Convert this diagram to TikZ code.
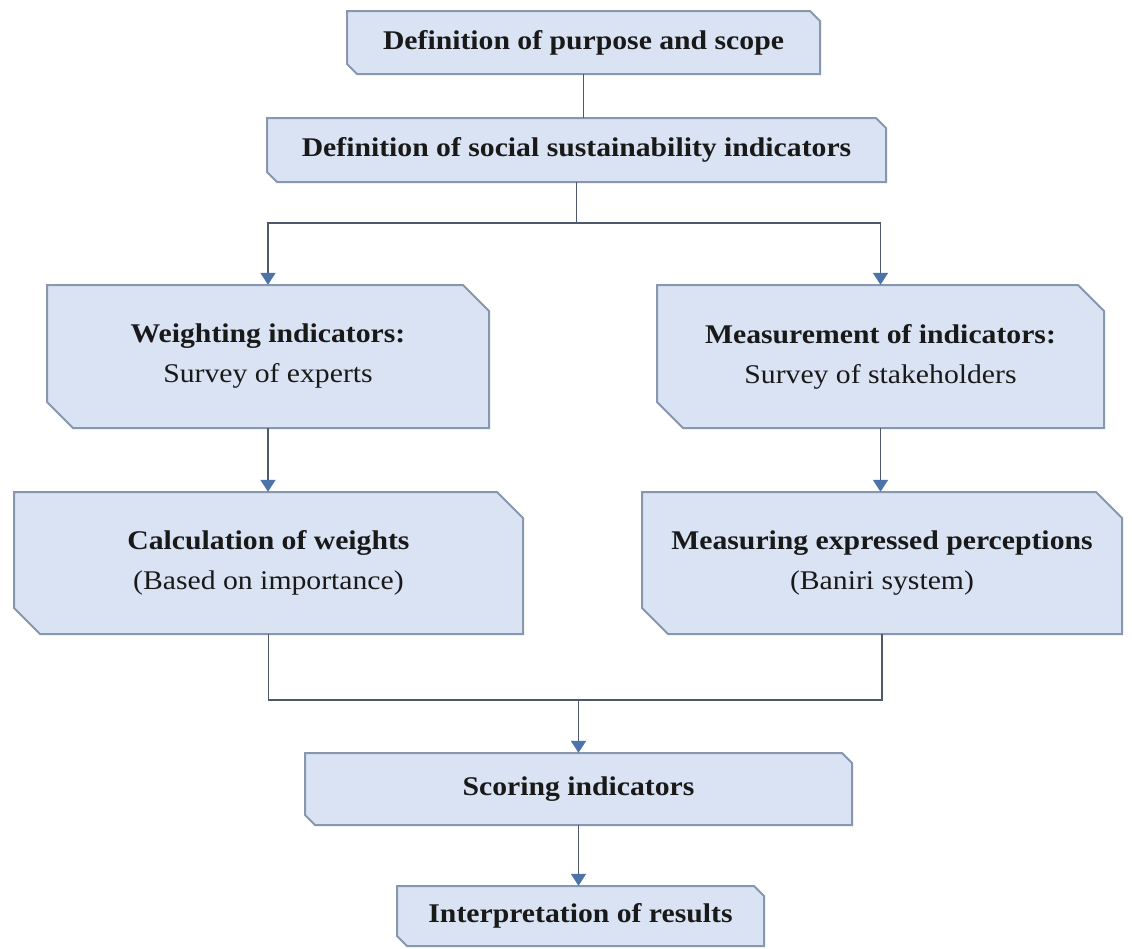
\documentclass[tikz,border=0pt]{standalone}
\usepackage{fontspec}
\setmainfont{Liberation Serif}[FakeStretch=1.1]
\usetikzlibrary{fit,arrows.meta,calc}
\definecolor{boxfill}{HTML}{DAE3F3}
\definecolor{boxedge}{HTML}{8797AE}
\definecolor{linecol}{HTML}{4E5A6A}
\definecolor{arrowcol}{HTML}{4C74A8}
\tikzset{
  snipshape/.style={fill=boxfill, draw=boxedge, line width=2pt, line join=miter},
  holder/.style={inner sep=0pt, draw=none},
  boxtext/.style={align=center, font=\fontsize{27}{40}\selectfont, text=black!90},
  conn/.style={draw=linecol, line width=1.6pt},
  arr/.style={conn, -{Triangle[width=15pt,length=12pt,color=arrowcol]}},
}
\newcommand\snipnode[7]{% name x1 y1 x2 y2 cut text
  \path[snipshape] (#2,#3) -- ({#4-#6},#3) -- (#4,{#3+#6}) -- (#4,#5) -- ({#2+#6},#5) -- (#2,{#5-#6}) -- cycle;
  \node[holder, fit={(#2,#3) (#4,#5)}] (#1) {};
  \node[boxtext] at (#1.center) {#7};
}
\begin{document}
\begin{tikzpicture}[x=1pt,y=-1pt]
\fill[white] (0,0) rectangle (1132,948);
\useasboundingbox (0,0) rectangle (1132,948);

\snipnode{b1}{347}{11}{820}{74}{10}{\textbf{Definition of purpose and scope}}
\snipnode{b2}{267}{118}{886}{182}{10}{\textbf{Definition of social sustainability indicators}}
\snipnode{b3}{47}{285}{489}{428}{26}{\textbf{Weighting indicators:}\\Survey of experts}
\snipnode{b4}{657}{285}{1104}{428}{26}{\textbf{Measurement of indicators:}\\Survey of stakeholders}
\snipnode{b5}{14}{492}{523}{634}{26}{\textbf{Calculation of weights}\\(Based on importance)}
\snipnode{b6}{642}{492}{1122}{634}{26}{\textbf{Measuring expressed perceptions}\\(Baniri system)}
\snipnode{b7}{305}{753}{852}{825}{10}{\textbf{Scoring indicators}}
\snipnode{b8}{397}{886}{764}{946}{10}{\textbf{Interpretation of results}}

\coordinate (j1) at ($(b2.south)+(0,41)$);
\coordinate (j2) at ($(b7.north |- b5.south)+(0,66)$);

\draw[conn] (b1.south) -- (b1.south |- b2.north);
\draw[conn] (b2.south) -- (j1);
\draw[arr] (j1) -| (b3.north);
\draw[arr] (j1) -| (b4.north);
\draw[arr] (b3.south) -- (b3.south |- b5.north);
\draw[arr] (b4.south) -- (b4.south |- b6.north);
\draw[conn] (b5.south) |- (j2);
\draw[conn] (b6.south) |- (j2);
\draw[arr] (j2) -- (b7.north);
\draw[arr] (b7.south) -- (b7.south |- b8.north);
\end{tikzpicture}
\end{document}
